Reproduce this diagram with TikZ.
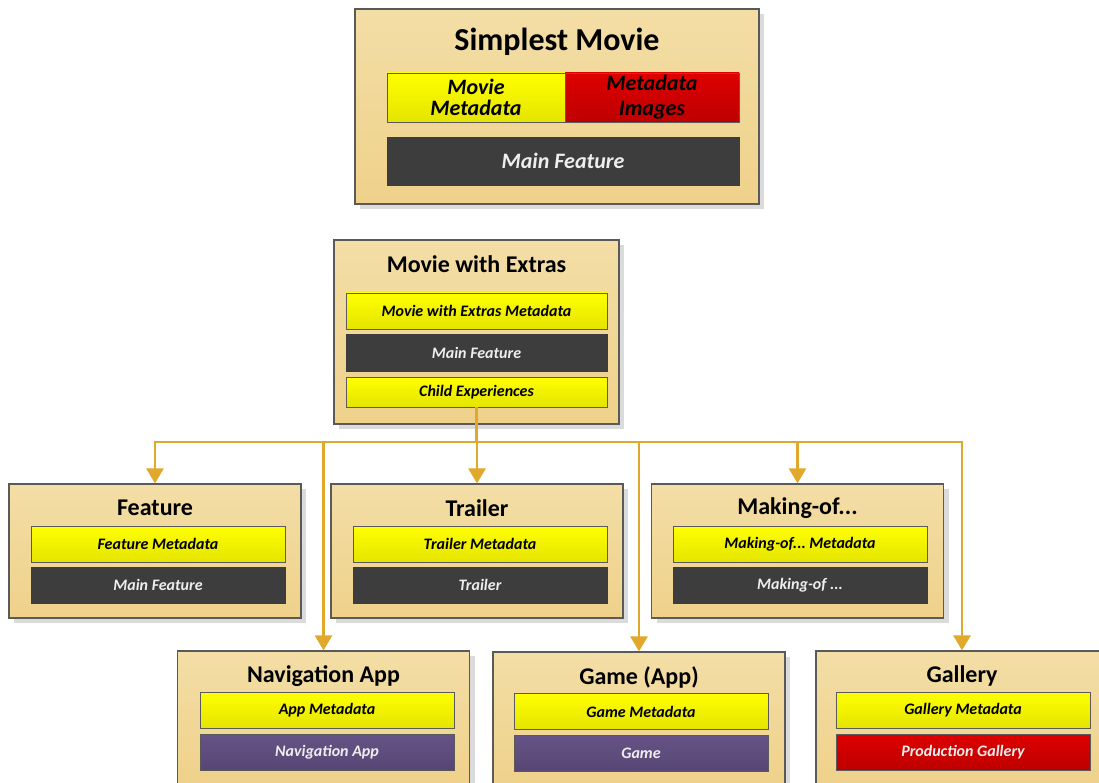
\documentclass[tikz,border=0pt]{standalone}
\usepackage{fontspec}
\setmainfont{Carlito}
\usepackage{xcolor}
\usepackage{tikz}
\usetikzlibrary{arrows.meta}
\usetikzlibrary{shadows}
\usetikzlibrary{positioning}
\frenchspacing
\definecolor{BoxLine}{RGB}{90,90,90}
\definecolor{TanTop}{RGB}{243,222,166}
\definecolor{TanBot}{RGB}{239,209,138}
\definecolor{YelTop}{RGB}{255,255,0}
\definecolor{YelBot}{RGB}{228,228,0}
\definecolor{RedTop}{RGB}{222,0,0}
\definecolor{RedBot}{RGB}{190,0,0}
\definecolor{DarkBar}{RGB}{61,61,61}
\definecolor{PurTop}{RGB}{103,83,135}
\definecolor{PurBot}{RGB}{86,70,116}
\definecolor{BarText}{RGB}{238,238,238}
\definecolor{LinkCol}{RGB}{225,169,43}
\tikzset{
  MyBox/.style={
    rectangle, inner sep=0pt,
    minimum width=292pt, minimum height=134pt,
    line width=1.2pt, draw=BoxLine,
    top color=TanTop, bottom color=TanBot,
    drop shadow={shadow xshift=5pt, shadow yshift=-5pt, fill=black!14, opacity=1},
  },
  MyTitle/.style={font=\bfseries\fontsize{24}{27}\selectfont},
  MyBar/.style={
    rectangle, inner sep=0pt, align=center,
    minimum width=254pt, minimum height=36pt,
    line width=0.8pt, draw=BoxLine,
    font=\bfseries\itshape\fontsize{16}{18}\selectfont,
  },
  MetaBar/.style={MyBar, top color=YelTop, bottom color=YelBot},
  FeatBar/.style={MyBar, fill=DarkBar, draw=DarkBar, text=BarText},
  AppBar/.style={MyBar, top color=PurTop, bottom color=PurBot, text=BarText},
  RedBar/.style={MyBar, top color=RedTop, bottom color=RedBot, text=BarText},
  MyLink/.style={line width=2.8pt, draw=LinkCol},
  MyArrow/.style={MyLink, -{Triangle[length=15pt, width=17pt]}},
}
\begin{document}
\begin{tikzpicture}[x=1pt, y=-1pt]
\useasboundingbox (0,0) rectangle (1099,783);
\clip (0,0) rectangle (1099,783);

% simplest movie
\node[MyBox, minimum width=404pt, minimum height=195pt] (SM) at (557,106.5) {};
\node[font=\bfseries\fontsize{32}{35}\selectfont] (SMtitle) at (557,42) {Simplest Movie};
\node[MetaBar, minimum width=178pt, minimum height=49pt, font=\bfseries\itshape\fontsize{22}{21}\selectfont] (SMmeta) at (476,97.5) {Movie\\Metadata};
\node[RedBar, text=black, minimum width=174pt, minimum height=49pt, font=\bfseries\itshape\fontsize{22}{25}\selectfont] (SMimg) at (652,97.5) {Metadata\\Images};
\node[FeatBar, minimum width=352pt, minimum height=48pt, font=\bfseries\itshape\fontsize{22}{24}\selectfont] (SMfeat) at (563,161) {Main Feature};

% movie with extras
\node[MyBox, minimum width=285pt, minimum height=184pt] (MWE) at (476.5,332) {};
\node[MyTitle] (MWEtitle) at (476.5,264) {Movie with Extras};
\node[MetaBar, minimum width=261pt] (MWEmeta) at (476.5,311) {Movie with Extras Metadata};
\node[FeatBar, minimum width=261pt, minimum height=37pt] (MWEfeat) at (476.5,352.5) {Main Feature};
\node[MetaBar, minimum width=261pt, minimum height=30pt] (CE) at (476.5,392) {Child Experiences};

% first row
\node[MyBox] (F) at (155,551) {};
\node[MyTitle] (Ftitle) at (155,508) {Feature};
\node[MetaBar] (Fmeta) at (158,544) {Feature Metadata};
\node[FeatBar] (Ffeat) at (158,585) {Main Feature};

\node[MyBox] (TR) at (477,551) {};
\node[MyTitle] (TRtitle) at (477,508) {Trailer};
\node[MetaBar] (TRmeta) at (480,544) {Trailer Metadata};
\node[FeatBar] (TRfeat) at (480,585) {Trailer};

\node[MyBox] (MO) at (797.5,551) {};
\node[MyTitle] (MOtitle) at (797.5,508) {Making-of...};
\node[MetaBar] (MOmeta) at (800,544) {Making-of... Metadata};
\node[FeatBar] (MOfeat) at (800,585) {Making-of ...};

% second row
\node[MyBox] (NA) at (323.5,718) {};
\node[MyTitle] (NAtitle) at (323.5,676) {Navigation App};
\node[MetaBar] (NAmeta) at (327,710.5) {App Metadata};
\node[AppBar] (NAapp) at (327,752) {Navigation App};

\node[MyBox] (GA) at (639,719) {};
\node[MyTitle] (GAtitle) at (639,677) {Game (App)};
\node[MetaBar] (GAmeta) at (641,711.5) {Game Metadata};
\node[AppBar] (GAapp) at (641,753.5) {Game};

\node[MyBox] (GL) at (962,718) {};
\node[MyTitle] (GLtitle) at (962,676) {Gallery};
\node[MetaBar] (GLmeta) at (963,710.5) {Gallery Metadata};
\node[RedBar] (GLprod) at (963,752) {Production Gallery};

% connectors
\coordinate (BusL) at (155,442);
\coordinate (BusR) at (962,442);
\draw[MyLink] (CE.south) to (CE.south |- BusL);
\draw[MyLink, line cap=rect] (BusL) to (BusR);
\foreach \n in {F,NA,TR,GA,MO,GL}
  \draw[MyArrow] (\n.north |- BusL) to (\n.north);

\end{tikzpicture}
\end{document}
